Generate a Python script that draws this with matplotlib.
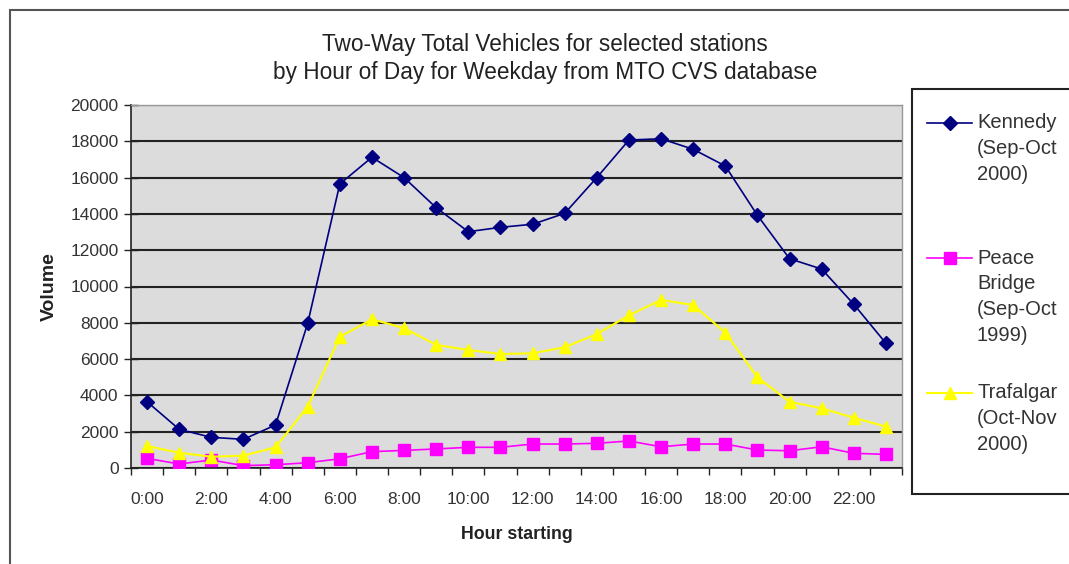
import matplotlib
matplotlib.use("Agg")
import matplotlib.pyplot as plt
from matplotlib.patches import Rectangle
from matplotlib.lines import Line2D
import numpy as np

plt.rcParams['font.family'] = ['Liberation Sans', 'DejaVu Sans']

hours = [f"{h}:00" for h in range(24)]
kennedy = [3650, 2130, 1690, 1580, 2370, 7970, 15650, 17120, 16000, 14340, 13020, 13260,
           13430, 14030, 16000, 18070, 18140, 17560, 16640, 13920, 11530, 10960, 9020, 6870]
peace_bridge = [530, 220, 440, 130, 180, 290, 510, 900, 970, 1050, 1140, 1140,
                1320, 1320, 1360, 1490, 1170, 1320, 1320, 990, 950, 1170, 810, 750]
trafalgar = [1210, 840, 620, 680, 1140, 3380, 7230, 8190, 7710, 6780, 6500, 6280,
             6320, 6650, 7380, 8410, 9260, 8980, 7460, 5000, 3650, 3290, 2770, 2280]
series_labels = ["Kennedy\n(Sep-Oct\n2000)", "Peace\nBridge\n(Sep-Oct\n1999)", "Trafalgar\n(Oct-Nov\n2000)"]
y_ticks = list(range(0, 20001, 2000))

styles = [
    dict(color='#000080', lw=1.2, marker='D', ms=7, mfc='#000080', mec='#000080'),
    dict(color='#ff00ff', lw=1.2, marker='s', ms=8, mfc='#ff00ff', mec='#ff00ff'),
    dict(color='#ffff00', lw=1.5, marker='^', ms=9, mfc='#ffff00', mec='#ffff00'),
]

W, H = 1069, 564
fig = plt.figure(figsize=(W / 100, H / 100), dpi=100)
fig.patch.set_facecolor('white')

# outer chart border
fig.add_artist(Rectangle((10 / W, -0.1), 1.2, 1.1 - 10 / H, transform=fig.transFigure,
                         fill=False, edgecolor='#555555', lw=1.5))

ax = fig.add_axes([131 / W, 1 - 468 / H, (902 - 131) / W, (468 - 105) / H])
ax.set_facecolor('#dcdcdc')

x = np.arange(len(hours))
for vals, st in zip([kennedy, peace_bridge, trafalgar], styles):
    ax.plot(x, vals, zorder=3, **st)

ax.set_xlim(-0.5, len(hours) - 0.5)
ax.set_ylim(0, 20000)
ax.set_yticks(y_ticks)
ax.set_yticklabels([str(v) for v in y_ticks])
ax.yaxis.grid(True, color='#222222', lw=1.5)
ax.set_axisbelow(True)

ax.set_xticks(np.arange(-0.5, len(hours), 1.0))
ax.set_xticklabels([])
ax.set_xticks(x[::2], minor=True)
ax.set_xticklabels(hours[::2], minor=True)
ax.tick_params(axis='x', which='major', direction='out', length=5, width=1, color='#222222')
ax.tick_params(axis='x', which='minor', length=0, pad=17, labelsize=12.5, labelcolor='#333333')
ax.tick_params(axis='y', direction='inout', length=10, width=1, color='#222222', pad=4,
               labelsize=12.5, labelcolor='#333333')

for side in ['top', 'right']:
    ax.spines[side].set_color('#999999')
    ax.spines[side].set_linewidth(1)
for side in ['left', 'bottom']:
    ax.spines[side].set_color('#222222')
    ax.spines[side].set_linewidth(1.2)

ax.set_ylabel('Volume', fontsize=14, fontweight='bold', color='#222222', labelpad=9)
ax.set_xlabel('Hour starting', fontsize=12.8, fontweight='bold', color='#222222', labelpad=14)

fig.text(545 / W, 1 - 44 / H, "Two-Way Total Vehicles for selected stations",
         ha='center', va='center', fontsize=16.3, color='#222222')
fig.text(545 / W, 1 - 72 / H, "by Hour of Day for Weekday from MTO CVS database",
         ha='center', va='center', fontsize=16.3, color='#222222')

# legend box with entries
fig.add_artist(Rectangle((912 / W, 1 - 494 / H), 0.3, (494 - 89) / H, transform=fig.transFigure,
                         fill=True, facecolor='white', edgecolor='#222222', lw=1.5))
entry_tops = [123, 258, 393]
for label, st, ytop in zip(series_labels, styles, entry_tops):
    yf = 1 - ytop / H
    fig.add_artist(Line2D([927 / W, 972 / W], [yf, yf], transform=fig.transFigure,
                          color=st['color'], lw=st['lw']))
    fig.add_artist(Line2D([949.5 / W], [yf], transform=fig.transFigure, linestyle='none',
                          marker=st['marker'], ms=st['ms'], mfc=st['mfc'], mec=st['mec']))
    fig.text(977 / W, yf + 9.5 / H, label, ha='left', va='top', fontsize=14.5,
             color='#333333', linespacing=1.45)

fig.savefig('out.png', dpi=100)
